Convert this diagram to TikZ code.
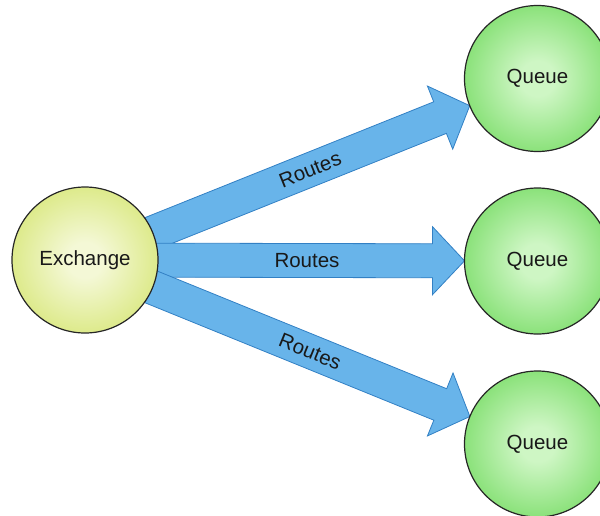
\documentclass[tikz,border=0pt]{standalone}
\usepackage{fontspec}
\setmainfont{Liberation Sans}
\usetikzlibrary{calc,backgrounds}
\definecolor{exin}{RGB}{244,248,214}
\definecolor{exout}{RGB}{208,226,96}
\definecolor{qin}{RGB}{206,246,196}
\definecolor{qout}{RGB}{100,214,80}
\definecolor{arrfill}{RGB}{104,180,234}
\definecolor{arrline}{RGB}{50,128,196}
\pgfdeclareradialshading{exshade}{\pgfpoint{0bp}{0bp}}{color(0bp)=(exin); color(6bp)=(exin); color(36bp)=(exout); color(50bp)=(exout)}
\pgfdeclareradialshading{qshade}{\pgfpoint{0bp}{0bp}}{color(0bp)=(qin); color(6bp)=(qin); color(36bp)=(qout); color(50bp)=(qout)}
\begin{document}
\begin{tikzpicture}[x=1pt,y=-1pt,
  font=\fontsize{20.5}{24}\selectfont,
  ball/.style={circle, minimum size=146pt, inner sep=0pt, draw=black!85, line width=1.2pt, text=black!90},
  exball/.style={ball, shade, shading=exshade},
  qball/.style={ball, shade, shading=qshade},
  flow/.style={fill=arrfill, draw=arrline, line width=0.8pt, line join=miter},
  lab/.style={sloped, text=black!90, inner sep=0pt}]
\useasboundingbox (0,0) rectangle (600,515);
\clip (0,0) rectangle (600,515);
\node[exball] (ex) at (85,260) {Exchange};
\node[qball] (q1) at (537.5,78.5) {Queue};
\node[qball] (q2) at (537.5,261) {Queue};
\node[qball] (q3) at (537.5,444) {Queue};
\begin{scope}[on background layer]
\foreach \q in {q1,q2,q3} {
  \coordinate (s) at (ex.center);
  \coordinate (t) at ($(\q.center)!73pt!(ex.center)$);
  \coordinate (h) at ($(t)!32pt!(s)$);
  \draw[flow] ($(s)!17pt!90:(t)$) -- ($(h)!17pt!-90:(s)$) -- ($(h)!34pt!-90:(s)$) -- (t)
     -- ($(h)!34pt!90:(s)$) -- ($(h)!17pt!90:(s)$) -- ($(s)!17pt!-90:(t)$) -- cycle;
  \path (s) -- (t) node[lab, pos=0.585] (r\q) {Routes};
}
\end{scope}
\end{tikzpicture}
\end{document}
